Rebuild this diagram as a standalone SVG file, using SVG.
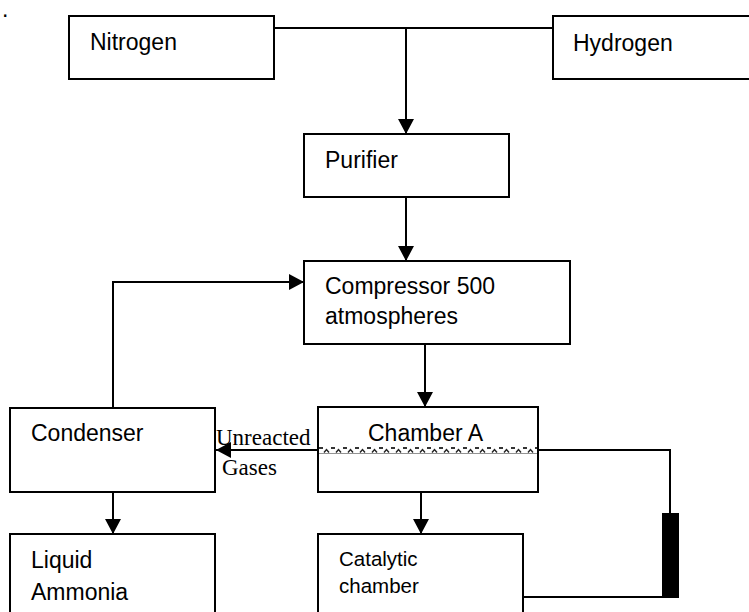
<svg xmlns="http://www.w3.org/2000/svg" width="749" height="612" viewBox="0 0 749 612">
  <style>
    .box { fill: #fff; stroke: #000; stroke-width: 2; }
    .lbl { font-family: "Liberation Sans", Arial, sans-serif; font-size: 23px; fill: #000; }
    .small { font-family: "Liberation Sans", Arial, sans-serif; font-size: 20.5px; fill: #000; }
    .serif { font-family: "Liberation Serif", "Times New Roman", serif; font-size: 23px; fill: #000; }
    .wire { fill: none; stroke: #000; stroke-width: 2; }
  </style>
  <defs>
    <marker id="arrow" viewBox="0 0 15 16" refX="15" refY="8" markerWidth="15" markerHeight="16" markerUnits="userSpaceOnUse" orient="auto">
      <path d="M0,0 L15,8 L0,16 Z" fill="#000"/>
    </marker>
    <!-- dash-and-hump texture for the chamber separator -->
    <pattern id="separator" x="318" y="446" width="12" height="8" patternUnits="userSpaceOnUse">
      <rect width="12" height="8" fill="#fff"/>
      <path d="M1,2 h4" stroke="#000" stroke-width="1.6"/>
      <path d="M6,6.5 l2.5,-3 l2.5,3" fill="none" stroke="#222" stroke-width="1.4"/>
      <path d="M0,7.5 h12" stroke="#777" stroke-width="0.8"/>
    </pattern>
  </defs>

  <rect width="749" height="612" fill="#fff"/>
  <text x="2" y="17" class="lbl" font-size="14">.</text>

  <g id="nitrogen">
    <rect class="box" x="69" y="16" width="205" height="63"/>
    <text class="lbl" x="90" y="50">Nitrogen</text>
  </g>
  <g id="hydrogen">
    <rect class="box" x="553" y="16" width="210" height="63"/>
    <text class="lbl" x="573" y="51">Hydrogen</text>
  </g>
  <g id="purifier">
    <rect class="box" x="304" y="134" width="205" height="63"/>
    <text class="lbl" x="325" y="168">Purifier</text>
  </g>
  <g id="compressor">
    <rect class="box" x="304" y="261" width="266" height="83"/>
    <text class="lbl" x="325" y="294">Compressor 500</text>
    <text class="lbl" x="325" y="324">atmospheres</text>
  </g>
  <g id="condenser">
    <rect class="box" x="10" y="408" width="205" height="84"/>
    <text class="lbl" x="31" y="441">Condenser</text>
  </g>
  <g id="chamber-a">
    <rect class="box" x="318" y="407" width="220" height="85"/>
    <text class="lbl" x="368" y="441">Chamber A</text>
    <rect x="319" y="446" width="218" height="8" fill="url(#separator)"/>
  </g>
  <g id="liquid-ammonia">
    <rect class="box" x="10" y="534" width="205" height="90"/>
    <text class="lbl" x="31" y="568">Liquid</text>
    <text class="lbl" x="31" y="600">Ammonia</text>
  </g>
  <g id="catalytic-chamber">
    <rect class="box" x="318" y="534" width="205" height="90"/>
    <text class="small" x="339" y="566">Catalytic</text>
    <text class="small" x="339" y="593">chamber</text>
  </g>
  <g id="heat-exchanger">
    <rect x="662" y="513" width="17" height="85" fill="#000"/>
  </g>

  <g id="connectors">
    <line class="wire" x1="274" y1="28" x2="553" y2="28"/>
    <line class="wire" x1="406" y1="28" x2="406" y2="134" marker-end="url(#arrow)"/>
    <line class="wire" x1="406" y1="197" x2="406" y2="261" marker-end="url(#arrow)"/>
    <polyline class="wire" points="113,408 113,282 304,282" marker-end="url(#arrow)"/>
    <line class="wire" x1="425" y1="344" x2="425" y2="407" marker-end="url(#arrow)"/>
    <line class="wire" x1="318" y1="450" x2="216" y2="450" marker-end="url(#arrow)"/>
    <line class="wire" x1="421" y1="492" x2="421" y2="534" marker-end="url(#arrow)"/>
    <line class="wire" x1="113" y1="492" x2="113" y2="534" marker-end="url(#arrow)"/>
    <polyline class="wire" points="538,450 670,450 670,513"/>
    <line class="wire" x1="523" y1="597" x2="662" y2="597"/>
    <text class="serif" x="216" y="445">Unreacted</text>
    <text class="serif" x="222" y="475">Gases</text>
  </g>
</svg>
